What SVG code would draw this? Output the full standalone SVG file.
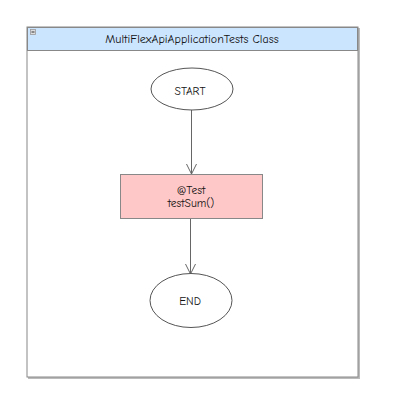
<svg xmlns="http://www.w3.org/2000/svg" width="394" height="414" viewBox="0 0 394 414">
<style>
.t{font-family:"Comic Neue","Liberation Sans",sans-serif;fill:#111;text-anchor:middle}
.n{stroke:#555;stroke-width:1;fill:#fff}
.c{stroke:#666;stroke-width:1;fill:none}
</style>
<defs>
<marker id="a" viewBox="0 0 12 12" refX="11" refY="6" markerWidth="12" markerHeight="12" markerUnits="userSpaceOnUse" orient="auto">
<path d="M1,1 L11,6 L1,11" fill="none" stroke="#666" stroke-width="1"/>
</marker>
</defs>
<rect width="394" height="414" fill="#fff"/>
<g id="container">
<rect x="28" y="28" width="332" height="351" fill="#bbb"/>
<rect x="27" y="27" width="331" height="350" fill="#fff" stroke="#888"/>
<rect x="27.5" y="27.5" width="330" height="23" fill="#cce5ff" stroke="#888"/>
<rect x="30.5" y="29.5" width="5" height="5" fill="#ddd" stroke="#999" stroke-width="0.8"/>
<line x1="31.5" y1="32" x2="34.5" y2="32" stroke="#333" stroke-width="1"/>
<text class="t" x="192" y="43" font-size="12">MultiFlexApiApplicationTests Class</text>
</g>
<g id="connectors">
<line class="c" x1="191.5" y1="110" x2="191.5" y2="174" marker-end="url(#a)"/>
<line class="c" x1="190.5" y1="219" x2="190.5" y2="274" marker-end="url(#a)"/>
</g>
<g id="start">
<ellipse class="n" cx="192" cy="89" rx="41" ry="21"/>
<text class="t" x="190" y="95" font-size="11.5">START</text>
</g>
<g id="testSum">
<rect x="120.5" y="174.5" width="142" height="44" fill="#ffc8c8" stroke="#888"/>
<text class="t" x="191" y="194" font-size="11.5">@Test</text>
<text class="t" x="191" y="207" font-size="11.5">testSum()</text>
</g>
<g id="end">
<ellipse class="n" cx="191" cy="300.5" rx="41" ry="27"/>
<text class="t" x="190" y="305" font-size="11.5">END</text>
</g>
</svg>
